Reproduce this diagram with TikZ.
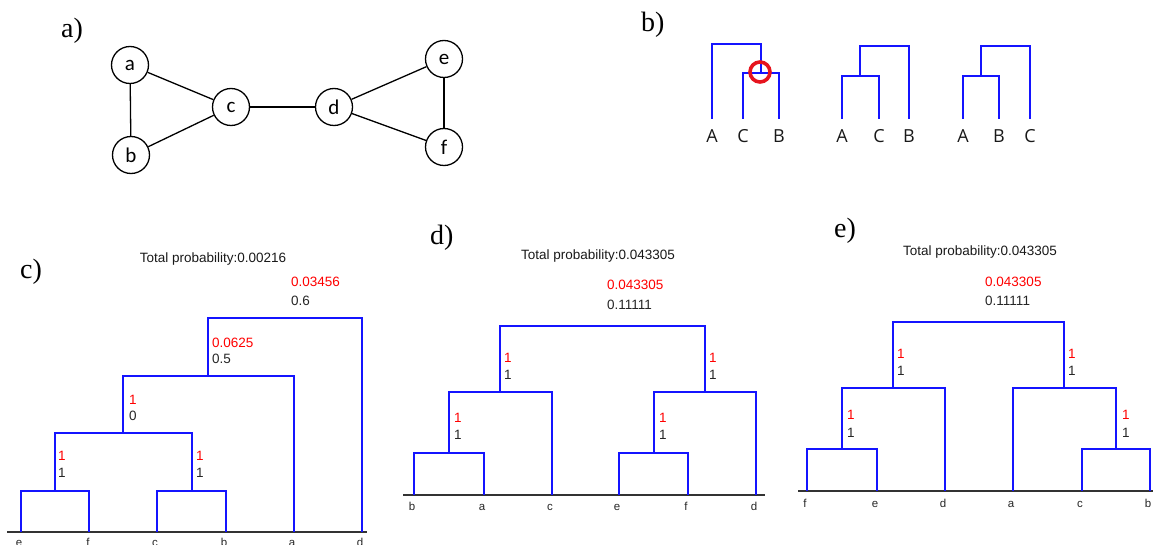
\documentclass[tikz,border=0pt]{standalone}
\usepackage{fontspec}
\setmainfont{Liberation Serif}
\newfontfamily\graphfont{Carlito}
\newfontfamily\treefont{Open Sans}
\newfontfamily\plotfont{Liberation Sans}
\definecolor{branchblue}{RGB}{20,20,255}
\definecolor{probred}{RGB}{255,0,0}
\definecolor{ringred}{RGB}{230,20,30}
\begin{document}
\begin{tikzpicture}[x=1pt,y=-1pt,
  vertex/.style={circle, draw, line width=1.3pt, minimum size=37pt, inner sep=0pt,
                 font=\graphfont\fontsize{21}{21}\selectfont},
  edge/.style={line width=1.3pt},
  branch/.style={draw=branchblue, line width=1.4pt},
  axis/.style={draw=black!80, line width=1.3pt},
  panel/.style={font=\fontsize{28}{28}\selectfont, anchor=base west, inner sep=0pt},
  treelabel/.style={font=\treefont\fontsize{18}{18}\selectfont, anchor=base, inner sep=0pt, text=black!90},
  leaf/.style={font=\plotfont\fontsize{11.5}{11.5}\selectfont, anchor=base, inner sep=0pt, text=black!85},
  title/.style={font=\plotfont\fontsize{13.5}{13.5}\selectfont, anchor=base, inner sep=0pt, text=black!90},
  prob/.style={font=\plotfont\fontsize{13.5}{13.5}\selectfont, anchor=base west, inner sep=0pt, text=black!85},
  redprob/.style={prob, text=probred}]
\useasboundingbox (0,0) rectangle (1153,545);

% ---------- panel labels ----------
\node[panel] (la) at (61,38) {a)};
\node[panel] (lb) at (641,32) {b)};
\node[panel] (lc) at (20,278) {c)};
\node[panel] (ld) at (430,245) {d)};
\node[panel] (le) at (834,238) {e)};

% ---------- a) graph ----------
\node[vertex] (a) at (130,65) {a};
\node[vertex] (b) at (131,155) {b};
\node[vertex] (c) at (231,107) {c};
\node[vertex] (d) at (334,107) {d};
\node[vertex] (e) at (444,59) {e};
\node[vertex] (f) at (444,147) {f};
\draw[edge] (a) -- (b);
\draw[edge] (a) -- (c);
\draw[edge] (b) -- (c);
\draw[edge] (c) -- (d);
\draw[edge] (d) -- (e);
\draw[edge] (d) -- (f);
\draw[edge] (e) -- (f);

% ---------- b) three small trees ----------
% tree 1: A, (C, B)
\coordinate (b1A) at (712,119);
\coordinate (b1C) at (743,119);
\coordinate (b1B) at (779,119);
\coordinate (b1cb) at (761,73);
\coordinate (b1top) at (736,44);
\draw[branch] (b1C) |- (b1cb) -| (b1B);
\draw[branch] (b1A) |- (b1top) -| (b1cb);
\node[circle, draw=ringred, line width=3.6pt, minimum size=20pt, inner sep=0pt] (ring) at (760,72) {};
\node[treelabel] (t1A) at (712,143) {A};
\node[treelabel] (t1C) at (743,143) {C};
\node[treelabel] (t1B) at (779,143) {B};
% tree 2: (A, C), B
\coordinate (b2A) at (842,119);
\coordinate (b2C) at (879,119);
\coordinate (b2B) at (909,119);
\coordinate (b2ac) at (860,76);
\coordinate (b2top) at (884,46);
\draw[branch] (b2A) |- (b2ac) -| (b2C);
\draw[branch] (b2ac) |- (b2top) -| (b2B);
\node[treelabel] (t2A) at (842,143) {A};
\node[treelabel] (t2C) at (879,143) {C};
\node[treelabel] (t2B) at (909,143) {B};
% tree 3: (A, B), C
\coordinate (b3A) at (963,119);
\coordinate (b3B) at (999,119);
\coordinate (b3C) at (1030,119);
\coordinate (b3ab) at (981,76);
\coordinate (b3top) at (1005,46);
\draw[branch] (b3A) |- (b3ab) -| (b3B);
\draw[branch] (b3ab) |- (b3top) -| (b3C);
\node[treelabel] (t3A) at (963,143) {A};
\node[treelabel] (t3B) at (999,143) {B};
\node[treelabel] (t3C) at (1030,143) {C};

% ---------- c) dendrogram ----------
\node[title] (ct) at (213,262) {Total probability:0.00216};
\coordinate (cL) at (7,532);
\coordinate (cR) at (367,532);
\draw[axis] (cL) -- (cR);
\coordinate (c-e) at (21,532);
\coordinate (c-f) at (89,532);
\coordinate (c-c) at (157,532);
\coordinate (c-b) at (226,532);
\coordinate (c-a) at (294,532);
\coordinate (c-d) at (362,532);
\coordinate (c-n1) at (55,491);
\coordinate (c-n2) at (192,491);
\coordinate (c-n3) at (123,433);
\coordinate (c-n4) at (208,376);
\coordinate (c-n5) at (285,318);
\draw[branch] (c-e) |- (c-n1) -| (c-f);
\draw[branch] (c-c) |- (c-n2) -| (c-b);
\draw[branch] (c-n1) |- (c-n3) -| (c-n2);
\draw[branch] (c-n3) |- (c-n4) -| (c-a);
\draw[branch] (c-n4) |- (c-n5) -| (c-d);
\node[leaf] (cle) at (19,546) {e};
\node[leaf] (clf) at (88,546) {f};
\node[leaf] (clc) at (155,546) {c};
\node[leaf] (clb) at (224,546) {b};
\node[leaf] (cla) at (292,546) {a};
\node[leaf] (cld) at (360,546) {d};
\node[redprob] (cp5r) at (291,287) {0.03456};
\node[prob]    (cp5)  at (291,305) {0.6};
\node[redprob] (cp4r) at (212,347) {0.0625};
\node[prob]    (cp4)  at (212,363) {0.5};
\node[redprob] (cp3r) at (129,404) {1};
\node[prob]    (cp3)  at (129,420) {0};
\node[redprob] (cp1r) at (58,460) {1};
\node[prob]    (cp1)  at (58,477) {1};
\node[redprob] (cp2r) at (196,460) {1};
\node[prob]    (cp2)  at (196,477) {1};

% ---------- d) dendrogram ----------
\node[title] (dt) at (598,260) {Total probability:0.043305};
\coordinate (dL) at (403,495);
\coordinate (dR) at (765,495);
\draw[axis] (dL) -- (dR);
\coordinate (d-b) at (414,495);
\coordinate (d-a) at (484,495);
\coordinate (d-c) at (552,495);
\coordinate (d-e) at (619,495);
\coordinate (d-f) at (688,495);
\coordinate (d-d) at (756,495);
\coordinate (d-n1) at (449,453);
\coordinate (d-n2) at (654,453);
\coordinate (d-n3) at (500,392);
\coordinate (d-n4) at (705,392);
\coordinate (d-n5) at (602,326);
\draw[branch] (d-b) |- (d-n1) -| (d-a);
\draw[branch] (d-e) |- (d-n2) -| (d-f);
\draw[branch] (d-n1) |- (d-n3) -| (d-c);
\draw[branch] (d-n2) |- (d-n4) -| (d-d);
\draw[branch] (d-n3) |- (d-n5) -| (d-n4);
\node[leaf] (dlb) at (412,510) {b};
\node[leaf] (dla) at (482,510) {a};
\node[leaf] (dlc) at (550,510) {c};
\node[leaf] (dle) at (617,510) {e};
\node[leaf] (dlf) at (686,510) {f};
\node[leaf] (dld) at (754,510) {d};
\node[redprob] (dp5r) at (607,289) {0.043305};
\node[prob]    (dp5)  at (607,309) {0.11111};
\node[redprob] (dp3r) at (504,362) {1};
\node[prob]    (dp3)  at (504,379) {1};
\node[redprob] (dp4r) at (709,362) {1};
\node[prob]    (dp4)  at (709,379) {1};
\node[redprob] (dp1r) at (454,422) {1};
\node[prob]    (dp1)  at (454,439) {1};
\node[redprob] (dp2r) at (659,422) {1};
\node[prob]    (dp2)  at (659,439) {1};

% ---------- e) dendrogram ----------
\node[title] (et) at (980,255) {Total probability:0.043305};
\coordinate (eL) at (798,491);
\coordinate (eR) at (1153,491);
\draw[axis] (eL) -- (eR);
\coordinate (e-f) at (807,491);
\coordinate (e-e) at (877,491);
\coordinate (e-d) at (945,491);
\coordinate (e-a) at (1013,491);
\coordinate (e-c) at (1082,491);
\coordinate (e-b) at (1150,491);
\coordinate (e-n1) at (842,449);
\coordinate (e-n2) at (1116,449);
\coordinate (e-n3) at (893,388);
\coordinate (e-n4) at (1064,388);
\coordinate (e-n5) at (978,322);
\draw[branch] (e-f) |- (e-n1) -| (e-e);
\draw[branch] (e-c) |- (e-n2) -| (e-b);
\draw[branch] (e-n1) |- (e-n3) -| (e-d);
\draw[branch] (e-a) |- (e-n4) -| (e-n2);
\draw[branch] (e-n3) |- (e-n5) -| (e-n4);
\node[leaf] (elf) at (805,507) {f};
\node[leaf] (ele) at (875,507) {e};
\node[leaf] (eld) at (943,507) {d};
\node[leaf] (ela) at (1011,507) {a};
\node[leaf] (elc) at (1080,507) {c};
\node[leaf] (elb) at (1148,507) {b};
\node[redprob] (ep5r) at (985,286) {0.043305};
\node[prob]    (ep5)  at (985,305) {0.11111};
\node[redprob] (ep3r) at (897,358) {1};
\node[prob]    (ep3)  at (897,375) {1};
\node[redprob] (ep4r) at (1068,358) {1};
\node[prob]    (ep4)  at (1068,375) {1};
\node[redprob] (ep1r) at (847,419) {1};
\node[prob]    (ep1)  at (847,437) {1};
\node[redprob] (ep2r) at (1122,419) {1};
\node[prob]    (ep2)  at (1122,437) {1};
\end{tikzpicture}
\end{document}
